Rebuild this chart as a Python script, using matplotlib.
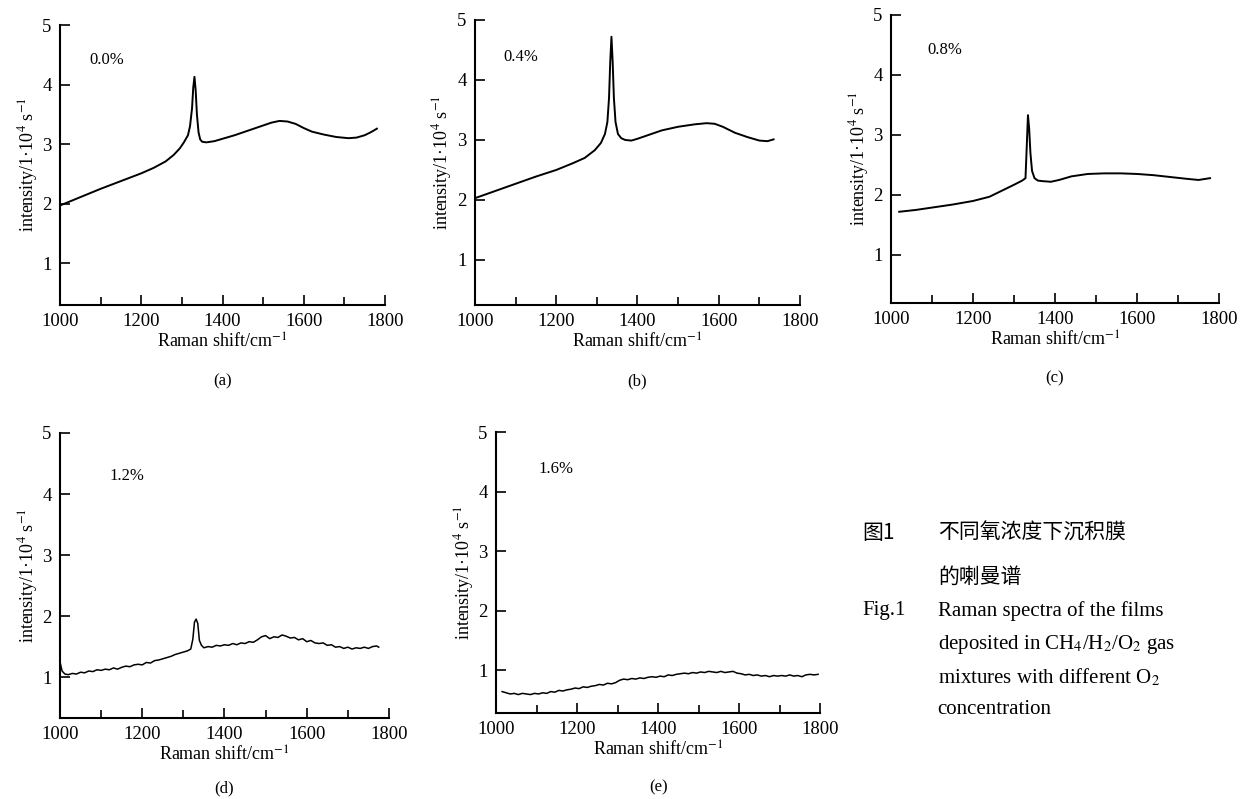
import matplotlib
matplotlib.use("Agg")
import matplotlib.pyplot as plt
from matplotlib.ticker import MultipleLocator

plt.rcParams['font.family'] = ['Liberation Serif', 'Noto Sans CJK SC', 'DejaVu Sans']
plt.rcParams['mathtext.fontset'] = 'stix'

# (a) 0.0 %
xa = [1000, 1050, 1100, 1150, 1200, 1230, 1260, 1280, 1295, 1305, 1315, 1320, 1325, 1328,
      1331, 1334, 1337, 1341, 1345, 1350, 1360, 1380, 1400, 1430, 1460, 1490, 1520, 1540,
      1560, 1580, 1600, 1620, 1650, 1680, 1710, 1730, 1750, 1765, 1780]
ya = [1.97, 2.11, 2.25, 2.38, 2.51, 2.60, 2.71, 2.82, 2.93, 3.03, 3.15, 3.30, 3.60, 3.95,
      4.13, 3.90, 3.50, 3.20, 3.08, 3.04, 3.03, 3.05, 3.09, 3.15, 3.22, 3.29, 3.36, 3.39,
      3.38, 3.34, 3.27, 3.21, 3.16, 3.12, 3.10, 3.11, 3.15, 3.20, 3.26]

# (b) 0.4 %
xb = [1000, 1050, 1100, 1150, 1200, 1240, 1270, 1295, 1310, 1320, 1326, 1330, 1333, 1336,
      1339, 1342, 1346, 1352, 1360, 1370, 1385, 1400, 1430, 1460, 1500, 1540, 1570, 1590,
      1610, 1640, 1670, 1700, 1720, 1735]
yb = [2.03, 2.15, 2.27, 2.39, 2.50, 2.61, 2.70, 2.83, 2.95, 3.10, 3.30, 3.70, 4.30, 4.72,
      4.30, 3.70, 3.30, 3.10, 3.03, 3.00, 2.99, 3.02, 3.09, 3.16, 3.22, 3.26, 3.28, 3.27,
      3.22, 3.12, 3.05, 2.99, 2.98, 3.01]

# (c) 0.8 %
xc = [1020, 1060, 1100, 1150, 1200, 1240, 1270, 1300, 1320, 1328, 1331, 1334, 1337, 1340,
      1344, 1350, 1358, 1370, 1390, 1410, 1440, 1480, 1520, 1560, 1600, 1640, 1680, 1720,
      1750, 1778]
yc = [1.72, 1.75, 1.79, 1.84, 1.90, 1.97, 2.07, 2.17, 2.24, 2.28, 2.80, 3.33, 3.10, 2.70,
      2.40, 2.28, 2.24, 2.23, 2.22, 2.25, 2.31, 2.35, 2.36, 2.36, 2.35, 2.33, 2.30, 2.27,
      2.25, 2.28]

# (d) 1.2 %
xd = [1000, 1005, 1012, 1020, 1030, 1040, 1050, 1060, 1070, 1080, 1090, 1100, 1110, 1120,
      1130, 1140, 1150, 1160, 1170, 1180, 1190, 1200, 1210, 1220, 1230, 1240, 1250, 1260,
      1270, 1280, 1290, 1300, 1310, 1318, 1323, 1327, 1331, 1335, 1339, 1344, 1350, 1360,
      1370, 1380, 1390, 1400, 1410, 1420, 1430, 1440, 1450, 1460, 1470, 1480, 1490, 1500,
      1510, 1520, 1530, 1540, 1550, 1560, 1570, 1580, 1590, 1600, 1610, 1620, 1630, 1640,
      1650, 1660, 1670, 1680, 1690, 1700, 1710, 1720, 1730, 1740, 1750, 1760, 1770, 1775]
yd = [1.25, 1.10, 1.05, 1.04, 1.06, 1.05, 1.08, 1.07, 1.10, 1.09, 1.12, 1.11, 1.13, 1.12,
      1.15, 1.13, 1.16, 1.18, 1.17, 1.20, 1.21, 1.20, 1.24, 1.23, 1.27, 1.28, 1.30, 1.32,
      1.34, 1.37, 1.39, 1.41, 1.43, 1.46, 1.62, 1.90, 1.95, 1.88, 1.60, 1.52, 1.48, 1.50,
      1.49, 1.52, 1.51, 1.53, 1.52, 1.55, 1.53, 1.56, 1.55, 1.58, 1.57, 1.61, 1.66, 1.68,
      1.63, 1.66, 1.65, 1.69, 1.67, 1.64, 1.65, 1.61, 1.63, 1.58, 1.60, 1.56, 1.55, 1.56,
      1.52, 1.53, 1.49, 1.50, 1.47, 1.49, 1.46, 1.48, 1.47, 1.49, 1.47, 1.50, 1.51, 1.49]

# (e) 1.6 %
xe = [1015, 1025, 1035, 1045, 1055, 1065, 1075, 1085, 1095, 1105, 1115, 1125, 1135, 1145,
      1155, 1165, 1175, 1185, 1195, 1205, 1215, 1225, 1235, 1245, 1255, 1265, 1275, 1285,
      1295, 1305, 1315, 1325, 1335, 1345, 1355, 1365, 1375, 1385, 1395, 1405, 1415, 1425,
      1435, 1445, 1455, 1465, 1475, 1485, 1495, 1505, 1515, 1525, 1535, 1545, 1555, 1565,
      1575, 1585, 1595, 1605, 1615, 1625, 1635, 1645, 1655, 1665, 1675, 1685, 1695, 1705,
      1715, 1725, 1735, 1745, 1755, 1765, 1775, 1785, 1795]
ye = [0.64, 0.62, 0.60, 0.61, 0.59, 0.61, 0.60, 0.59, 0.61, 0.60, 0.62, 0.61, 0.64, 0.63,
      0.66, 0.65, 0.67, 0.68, 0.70, 0.69, 0.72, 0.71, 0.73, 0.74, 0.76, 0.75, 0.78, 0.77,
      0.79, 0.83, 0.85, 0.84, 0.86, 0.85, 0.87, 0.86, 0.88, 0.89, 0.88, 0.90, 0.89, 0.92,
      0.91, 0.93, 0.94, 0.95, 0.94, 0.96, 0.95, 0.97, 0.96, 0.98, 0.97, 0.96, 0.98, 0.96,
      0.97, 0.98, 0.95, 0.94, 0.92, 0.93, 0.91, 0.92, 0.90, 0.91, 0.89, 0.91, 0.90, 0.91,
      0.90, 0.92, 0.90, 0.91, 0.89, 0.92, 0.93, 0.92, 0.93]

conc = ["0.0%", "0.4%", "0.8%", "1.2%", "1.6%"]
tags = ["(a)", "(b)", "(c)", "(d)", "(e)"]
ylabel = "intensity/1·10$^4$ s$^{-1}$"
xlabel = "Raman shift/cm$^{-1}$"

# axes boxes in figure fraction
boxes = [[0.0483, 0.6183, 0.2617, 0.3504],
         [0.3824, 0.6183, 0.2617, 0.3567],
         [0.7174, 0.6208, 0.2641, 0.3605],
         [0.0483, 0.1014, 0.2649, 0.3567],
         [0.3994, 0.1076, 0.2609, 0.3517]]
ymins = [0.3, 0.25, 0.2, 0.33, 0.28]
txt_pos = [(0.09, 0.875), (0.086, 0.87), (0.11, 0.88), (0.15, 0.85), (0.13, 0.87)]
tag_y = [0.513, 0.513, 0.516, 0.003, 0.004]

xs = [xa, xb, xc, xd, xe]
ys = [ya, yb, yc, yd, ye]

fig = plt.figure(figsize=(12.42, 7.99), dpi=100)

for i in range(5):
    ax = fig.add_axes(boxes[i])
    ax.plot(xs[i], ys[i], color='black', lw=1.4 if i < 3 else 1.1)
    ax.set_xlim(1000, 1800)
    ax.set_ylim(ymins[i], 5)
    ax.xaxis.set_major_locator(MultipleLocator(200))
    ax.xaxis.set_minor_locator(MultipleLocator(100))
    ax.set_yticks([1, 2, 3, 4, 5])
    for s in ['top', 'right']:
        ax.spines[s].set_visible(False)
    for s in ['left', 'bottom']:
        ax.spines[s].set_linewidth(1.5)
    ax.tick_params(direction='in', length=7, width=1.2, labelsize=13.5, pad=6)
    ax.tick_params(which='minor', direction='in', length=6, width=1.2)
    ax.set_xlabel(xlabel, fontsize=13, labelpad=2)
    ax.set_ylabel(ylabel, fontsize=13, labelpad=2)
    ax.text(txt_pos[i][0], txt_pos[i][1], conc[i], transform=ax.transAxes,
            fontsize=12, va='center')
    cx = boxes[i][0] + boxes[i][2] * 0.5
    fig.text(cx, tag_y[i], tags[i], ha='center', va='bottom', fontsize=12)

# caption
cap_x1, cap_x2 = 0.694, 0.755
fig.text(cap_x1, 1 - 533 / 799, "图1", fontsize=15, va='center',
         family=['Noto Sans CJK SC'])
fig.text(cap_x2, 1 - 533 / 799, "不同氧浓度下沉积膜", fontsize=15, va='center',
         family=['Noto Sans CJK SC'])
fig.text(cap_x2, 1 - 577 / 799, "的喇曼谱", fontsize=15, va='center',
         family=['Noto Sans CJK SC'])
fig.text(cap_x1, 1 - 611 / 799, "Fig.1", fontsize=15, va='center')
cap_lines = ["Raman spectra of the films",
             "deposited in CH$_4$/H$_2$/O$_2$ gas",
             "mixtures with different O$_2$",
             "concentration"]
for k, line in enumerate(cap_lines):
    fig.text(cap_x2, 1 - (611 + 33 * k) / 799, line, fontsize=15, va='center')

fig.savefig("out.png", dpi=100)
